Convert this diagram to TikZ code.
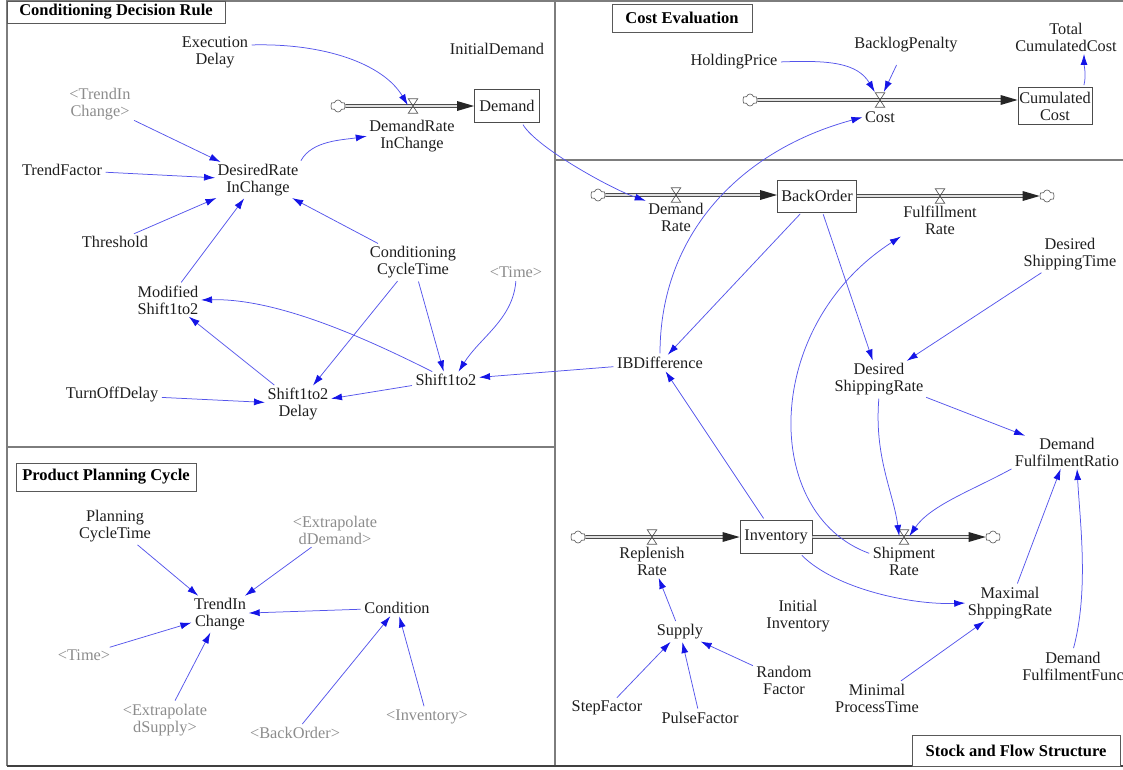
\documentclass[tikz,border=0pt]{standalone}
\usepackage{fontspec}
\setmainfont{Liberation Serif}
\usetikzlibrary{arrows.meta,shapes.symbols}
\definecolor{linkblue}{RGB}{85,85,235}
\definecolor{tipblue}{RGB}{20,20,230}
\definecolor{panelgray}{RGB}{125,125,125}
\definecolor{txt}{RGB}{30,30,30}
\definecolor{ghost}{RGB}{140,140,140}

% material pipe from #1 into #2, ending in a solid arrow head
\newcommand\flowpipe[2]{%
  \draw[pipe] (#1) -- ([xshift=-14pt]#2);
  \fill[black!85] (#2) -- ++(-17pt,5pt) -- ++(0pt,-10pt) -- cycle;}
% hourglass valve sitting on a pipe
\newcommand\valveat[2]{%
  \node[valve] (#1) at (#2) {};
  \draw[valveline] (#1.north west) -- (#1.north east) -- (#1.south west) -- (#1.south east) -- cycle;}

\begin{document}
\begin{tikzpicture}[x=1pt,y=-1pt,
  every node/.style={font=\fontsize{16.3}{17}\selectfont},
  lbl/.style={align=center,inner sep=1.5pt,text=txt},
  ghostlbl/.style={lbl,text=ghost},
  stockbox/.style={draw=black!70,line width=0.9pt,inner sep=0,align=center,text=txt},
  titlebox/.style={draw=black!65,line width=0.9pt,fill=white,inner sep=0,
    font=\bfseries\fontsize{16.5}{17}\selectfont,text=black},
  link/.style={draw=linkblue,line width=0.75pt,
    -{Latex[length=11pt,width=7pt,color=tipblue]},shorten >=1pt,shorten <=2pt},
  pipe/.style={draw=black!70,line width=0.9pt,double=black!12,double distance=1.8pt},
  valve/.style={minimum width=9pt,minimum height=14pt,inner sep=0},
  valveline/.style={draw=black!65,line width=0.7pt},
  sink/.style={cloud,cloud puffs=6,draw=black!60,fill=white,minimum width=15pt,
    minimum height=12pt,inner sep=0,line width=0.7pt},
  panel/.style={draw=panelgray,line width=1.2pt}
]
\useasboundingbox (0,0) rectangle (1123,769);

% ---- sector frames ----
\draw[panel] (7,766) -- (7,1) -- (1123,1);
\draw[panel] (555,1) -- (555,766);
\draw[panel] (7,447) -- (555,447);
\draw[panel] (555,160) -- (1123,160);
\draw[panel,draw=black!75] (7,766) -- (1123,766);

\node[titlebox,minimum width=218pt,minimum height=22pt] (tCDR) at (116,12) {Conditioning Decision Rule};
\node[titlebox,minimum width=140pt,minimum height=28pt] (tCE) at (682,18) {Cost Evaluation};
\node[titlebox,minimum width=180pt,minimum height=28pt] (tPPC) at (106,477) {Product Planning Cycle};
\node[titlebox,minimum width=208pt,minimum height=31pt] (tSFS) at (1016,751) {Stock and Flow Structure};

% ---- Conditioning Decision Rule ----
\node[lbl] (execdelay) at (215,52) {Execution\\Delay};
\node[lbl] (initdemand) at (497,49) {InitialDemand};
\node[ghostlbl] (trendS) at (100,104) {<TrendIn\\Change>};
\node[lbl] (trendfactor) at (62,170) {TrendFactor};
\node[lbl] (desiredrate) at (258,180) {DesiredRate\\InChange};
\node[lbl] (threshold) at (115,242) {Threshold};
\node[lbl] (condcycle) at (413,262) {Conditioning\\CycleTime};
\node[ghostlbl] (timeA) at (516,272) {<Time>};
\node[lbl] (modshift) at (168,300) {Modified\\Shift1to2};
\node[lbl] (shift) at (446,380) {Shift1to2};
\node[lbl] (shiftdelay) at (298,404) {Shift1to2\\Delay};
\node[lbl] (turnoff) at (112,395) {TurnOffDelay};

\node[sink] (cl1) at (338,106) {};
\node[stockbox,minimum width=65pt,minimum height=33pt] (demand) at (507,106) {Demand};
\flowpipe{cl1.east}{demand.west}
\valveat{v1}{413,106}
\node[lbl] (demandrate) at (412,136) {DemandRate\\InChange};

% ---- Cost Evaluation ----
\node[lbl] (holding) at (734,62) {HoldingPrice};
\node[lbl] (backlog) at (906,45) {BacklogPenalty};
\node[lbl] (totalcum) at (1066,37) {Total\\CumulatedCost};
\node[sink] (cl2) at (750,100) {};
\node[stockbox,minimum width=74pt,minimum height=37pt] (cumcost) at (1055,106) {Cumulated\\Cost};
\flowpipe{cl2.east}{cl2 -| cumcost.west}
\valveat{v2}{880,100}
\node[lbl] (cost) at (880,117) {Cost};

% ---- Stock and Flow Structure ----
\node[sink] (cl3) at (598,195) {};
\node[stockbox,minimum width=79pt,minimum height=32pt] (backorder) at (817,196) {BackOrder};
\node[sink] (cl4) at (1047,196) {};
\flowpipe{cl3.east}{cl3 -| backorder.west}
\flowpipe{cl4 -| backorder.east}{cl4.west}
\valveat{v3}{676,195}
\valveat{v4}{940,196}
\node[lbl] (dr) at (676,217) {Demand\\Rate};
\node[lbl] (fulfill) at (940,220) {Fulfillment\\Rate};
\node[lbl] (desiredshiptime) at (1070,254) {Desired\\ShippingTime};
\node[lbl] (ibdiff) at (660,363) {IBDifference};
\node[lbl] (desiredshiprate) at (879,379) {Desired\\ShippingRate};
\node[lbl] (dfratio) at (1067,452) {Demand\\FulfilmentRatio};

\node[sink] (cl5) at (578,537) {};
\node[stockbox,minimum width=72pt,minimum height=33pt] (inventory) at (776,537) {Inventory};
\node[sink] (cl6) at (993,537) {};
\flowpipe{cl5.east}{inventory.west}
\flowpipe{inventory.east}{cl6.west}
\valveat{v5}{652,537}
\valveat{v6}{904,537}
\node[lbl] (replenish) at (652,561) {Replenish\\Rate};
\node[lbl] (shipment) at (904,561) {Shipment\\Rate};
\node[lbl] (maxship) at (1010,603) {Maximal\\ShppingRate};
\node[lbl] (initinv) at (798,616) {Initial\\Inventory};
\node[lbl] (supply) at (680,632) {Supply};
\node[lbl] (random) at (784,680) {Random\\Factor};
\node[lbl] (stepfactor) at (607,708) {StepFactor};
\node[lbl] (pulsefactor) at (700,718) {PulseFactor};
\node[lbl] (minproc) at (877,698) {Minimal\\ProcessTime};
\node[lbl] (dffunc) at (1073,666) {Demand\\FulfilmentFunc};

% ---- Product Planning Cycle ----
\node[lbl] (planning) at (115,526) {Planning\\CycleTime};
\node[ghostlbl] (extdemand) at (335,530) {<Extrapolate\\dDemand>};
\node[lbl] (trendinchange) at (220,614) {TrendIn\\Change};
\node[lbl] (condition) at (397,608) {Condition};
\node[ghostlbl] (timeB) at (84,655) {<Time>};
\node[ghostlbl] (extsupply) at (165,720) {<Extrapolate\\dSupply>};
\node[ghostlbl] (backorderS) at (295,733) {<BackOrder>};
\node[ghostlbl] (inventoryS) at (427,717) {<Inventory>};

% ---- information links ----
\draw[link] ([yshift=7pt]execdelay.east) .. controls +(75,-2) and +(-25,-42) .. (v1.west);
\draw[link] (trendS) -- (desiredrate);
\draw[link] (trendfactor) -- (desiredrate);
\draw[link] (threshold) -- (desiredrate);
\draw[link] (modshift) -- (desiredrate);
\draw[link] (condcycle) -- (desiredrate);
\draw[link] (desiredrate.north east) .. controls +(12,-22) and +(-25,4) .. (demandrate.west);
\draw[link] (condcycle) -- (shiftdelay);
\draw[link] (condcycle) -- (shift);
\draw[link] (timeA.south) .. controls +(-3,40) and +(22,-35) .. ([xshift=12pt]shift.north);
\draw[link] ([xshift=-12pt]shift.north) .. controls +(-60,-30) and +(80,-2) .. (modshift.east);
\draw[link] (shiftdelay) -- (modshift);
\draw[link] (shift) -- (shiftdelay);
\draw[link] (turnoff) -- (shiftdelay);
\draw[link] (ibdiff) -- (shift);
\draw[link] ([xshift=-18pt]demand.south east) .. controls +(15,25) and +(-35,-12) .. (dr.north west);

\draw[link] (holding.east) .. controls +(50,-2) and +(-18,-30) .. (v2.north west);
\draw[link,shorten <=12pt] (backlog) -- (v2);
\draw[link] ([xshift=-9pt]cumcost.north east) .. controls +(3,-12) and +(0,12) .. ([xshift=18pt]totalcum.south);
\draw[link] (ibdiff.north) .. controls +(0,-122) and +(-122,33) .. (cost.west);

\draw[link] (backorder) -- (ibdiff);
\draw[link] (backorder) -- (desiredshiprate);
\draw[link] (desiredshiptime) -- (desiredshiprate);
\draw[link] (inventory) -- (ibdiff);
\draw[link] ([yshift=7pt]shipment.west) .. controls +(-110,-40) and +(-140,90) .. (fulfill.south west);
\draw[link] (desiredshiprate.south) .. controls +(-5,60) and +(-6,-45) .. (v6.west);
\draw[link] (desiredshiprate) -- (dfratio);
\draw[link] (dfratio.south west) .. controls +(-40,22) and +(22,-32) .. (v6.east);
\draw[link] ([xshift=-12pt]inventory.south east) .. controls +(35,35) and +(-55,2) .. (maxship.west);
\draw[link] (maxship) -- (dfratio);
\draw[link] (dffunc.north) .. controls +(16,-60) and +(3,55) .. ([xshift=10pt]dfratio.south);
\draw[link] (minproc) -- (maxship);
\draw[link] (supply) -- (replenish);
\draw[link] (stepfactor) -- (supply);
\draw[link] (pulsefactor) -- (supply);
\draw[link] (random) -- (supply);

\draw[link] (planning) -- (trendinchange);
\draw[link] (extdemand) -- (trendinchange);
\draw[link] (condition) -- (trendinchange);
\draw[link] (timeB) -- (trendinchange);
\draw[link] (extsupply) -- (trendinchange);
\draw[link] (backorderS) -- (condition);
\draw[link] (inventoryS) -- (condition);
\end{tikzpicture}
\end{document}
